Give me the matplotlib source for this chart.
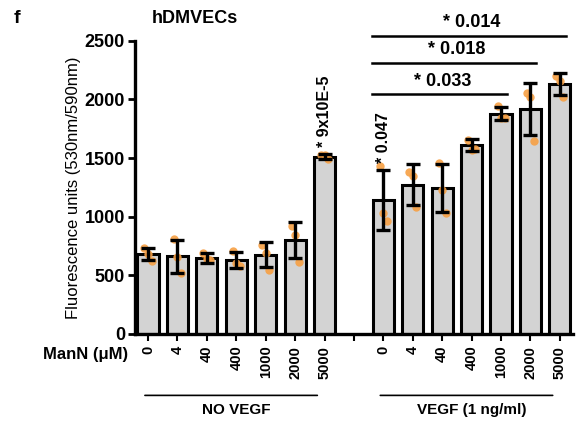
import numpy as np
import matplotlib
matplotlib.use('Agg')
import matplotlib.pyplot as plt

plt.rcParams['font.family'] = ['Liberation Sans', 'DejaVu Sans']
plt.rcParams['font.weight'] = 'bold'

## data
labels = ['0', '4', '40', '400', '1000', '2000', '5000', '',
          '0', '4', '40', '400', '1000', '2000', '5000']
means = [680, 660, 648, 632, 675, 798, 1513, np.nan,
         1143, 1274, 1243, 1610, 1880, 1917, 2130]
errs = [50, 138, 43, 68, 108, 153, 18, np.nan,
        256, 171, 206, 50, 57, 224, 94]
points = [[731, 683, 625], [808, 654, 523], [694, 637, 631], [711, 603, 580],
          [759, 689, 546], [916, 845, 617], [1530, 1525, 1495], [],
          [1433, 1035, 960], [1385, 1348, 1086], [1456, 1229, 1030],
          [1655, 1570, 1576], [1940, 1840, 1840], [2054, 2025, 1649],
          [2196, 2154, 2025]]
# (start bar, end bar, p-value text)
brackets = [(8, 12, '* 0.033'), (8, 13, '* 0.018'), (8, 14, '* 0.014')]
bracket_y = [2045, 2315, 2545]
groups = [(0, 6, 'NO VEGF'), (8, 14, 'VEGF (1 ng/ml)')]

x = np.arange(len(labels))
fig = plt.figure(figsize=(5.76, 4.21), dpi=100)
ax = fig.add_axes([0.234, 0.207, 0.76, 0.696])

ax.bar(x, means, width=0.72, color='#d3d3d3', edgecolor='black', linewidth=2.2, zorder=1)
jit = [-0.12, 0.0, 0.12]
for i, pts in enumerate(points):
    for j, p in enumerate(pts):
        ax.scatter(x[i] + jit[j], p, s=36, color='#f7a044', alpha=0.9, zorder=2, linewidths=0)
ax.errorbar(x, means, yerr=errs, fmt='none', ecolor='black', elinewidth=2.4,
            capsize=5, capthick=2.4, zorder=3)

ax.set_xlim(-0.45, 14.43)
ax.set_ylim(0, 2500)
ax.set_yticks([0, 500, 1000, 1500, 2000, 2500])
ax.tick_params(axis='y', labelsize=13, width=2, length=5, pad=2)
ax.tick_params(axis='x', labelsize=10.5, width=1.5, length=5)
ax.set_xticks(x)
ax.set_xticklabels(labels, rotation=90)
for s in ['top', 'right']:
    ax.spines[s].set_visible(False)
ax.spines['left'].set_linewidth(2.4)
ax.spines['bottom'].set_linewidth(2.4)
ax.set_ylabel('Fluorescence units (530nm/590nm)', fontsize=12, labelpad=3)

for (a, b, t), yy in zip(brackets, bracket_y):
    ax.plot([x[a] - 0.38, x[b] + 0.2], [yy, yy], color='black', lw=1.8, clip_on=False)
    ax.text((x[a] + x[b]) / 2, yy + 35, t, ha='center', va='bottom', fontsize=13, clip_on=False)

ax.text(x[6], 1590, '* 9x10E-5', rotation=90, ha='center', va='bottom', fontsize=11.5)
ax.text(x[8], 1460, '* 0.047', rotation=90, ha='center', va='bottom', fontsize=11.5)

for a, b, t in groups:
    ax.annotate('', xy=(x[a] - 0.2, -0.21), xytext=(x[b] - 0.15, -0.21),
                xycoords=('data', 'axes fraction'), textcoords=('data', 'axes fraction'),
                arrowprops=dict(arrowstyle='-', lw=1.2, color='black'))
    ax.text((x[a] + x[b]) / 2, -0.235, t, transform=ax.get_xaxis_transform(),
            ha='center', va='top', fontsize=11)

fig.text(0.148, 0.159, 'ManN (\u03bcM)', ha='center', va='center', fontsize=12)
fig.text(0.338, 0.955, 'hDMVECs', ha='center', va='center', fontsize=13)
fig.text(0.03, 0.957, 'f', ha='center', va='center', fontsize=14)

fig.savefig('out.png', dpi=100)
